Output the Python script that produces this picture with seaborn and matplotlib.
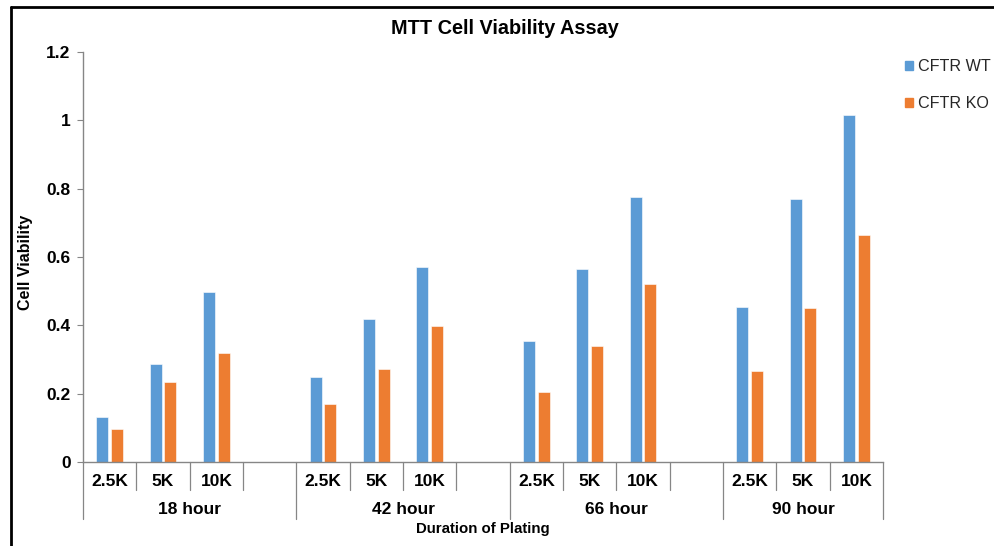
import matplotlib
matplotlib.use("Agg")
import matplotlib.pyplot as plt
import matplotlib.transforms as mtransforms
from matplotlib.lines import Line2D
import seaborn as sns
import pandas as pd

# ---- data ----
durations = ["18 hour", "42 hour", "66 hour", "90 hour"]
densities = ["2.5K", "5K", "10K"]
series = ["CFTR WT", "CFTR KO"]
wt_values = [0.131, 0.286, 0.499,
             0.250, 0.420, 0.572,
             0.355, 0.564, 0.777,
             0.453, 0.771, 1.017]
ko_values = [0.098, 0.233, 0.318,
             0.169, 0.272, 0.397,
             0.204, 0.340, 0.522,
             0.267, 0.450, 0.663]
colors = ["#5B9BD5", "#ED7D31"]

# ---- build table: 4 slots per group (3 densities + empty spacer), last group without spacer ----
order = []
slot_info = []  # (density label or "", group idx)
for gi, d in enumerate(durations):
    for den in densities:
        order.append(f"{d}|{den}")
        slot_info.append((den, gi))
    if gi < len(durations) - 1:
        order.append(f"{d}|gap")
        slot_info.append(("", gi))

rows = []
k = 0
for gi, d in enumerate(durations):
    for den in densities:
        rows.append({"slot": f"{d}|{den}", "series": series[0], "value": wt_values[k]})
        rows.append({"slot": f"{d}|{den}", "series": series[1], "value": ko_values[k]})
        k += 1
df = pd.DataFrame(rows)

sns.set_theme(style="white")
plt.rcParams["font.family"] = ["Liberation Sans", "DejaVu Sans"]

fig = plt.figure(figsize=(9.94, 5.46), dpi=100)
ax = fig.add_axes([83 / 994, 1 - 462 / 546, 800 / 994, 410 / 546])

sns.barplot(data=df, x="slot", y="value", hue="series", order=order,
            hue_order=series, palette=colors, width=0.56, gap=0.2,
            saturation=1, errorbar=None, ax=ax, legend=False,
            edgecolor="white", linewidth=0.4)

ax.set_xlim(-0.5, len(order) - 0.5)
ax.set_ylim(0, 1.2)
ax.set_yticks([0, 0.2, 0.4, 0.6, 0.8, 1.0, 1.2])
ax.set_yticklabels(["0", "0.2", "0.4", "0.6", "0.8", "1", "1.2"],
                   fontsize=12.5, fontweight="bold", color="black")
ax.tick_params(axis="y", length=4, width=0.8, color="#868686", direction="out",
               left=True, pad=5)
ax.set_xticks([])
ax.set_xlabel("")
ax.set_ylabel("Cell Viability", fontsize=11.5, fontweight="bold", color="black")
ax.yaxis.set_label_coords((33 - 83) / 800, (462 - 262) / 410)
for s in ["top", "right"]:
    ax.spines[s].set_visible(False)
for s in ["left", "bottom"]:
    ax.spines[s].set_color("#868686")
    ax.spines[s].set_linewidth(1.0)

# ---- multi-level category axis ----
trans = mtransforms.blended_transform_factory(ax.transData, ax.transAxes)
px = 1.0 / 410.0  # axes fraction per pixel (vertical)
y_inner_label = -(481 - 462) * px
y_inner_line = -(490 - 462) * px
y_group_label = -(510 - 462) * px
y_group_line = -(519 - 462) * px

n = len(order)
for i in range(n + 1):
    xb = i - 0.5
    is_group_edge = (i == 0) or (i == n) or (i < n and slot_info[i][0] == "2.5K")
    y_end = y_group_line if is_group_edge else y_inner_line
    ax.add_line(Line2D([xb, xb], [0, y_end], transform=trans, color="#868686",
                       lw=0.9, clip_on=False))
for i, (lab, gi) in enumerate(slot_info):
    if lab:
        ax.text(i, y_inner_label, lab, transform=trans, ha="center", va="center",
                fontsize=12.5, fontweight="bold", color="black")
for gi, d in enumerate(durations):
    idx = [i for i, (lab, g) in enumerate(slot_info) if g == gi]
    center = (min(idx) - 0.5 + max(idx) + 0.5) / 2
    ax.text(center, y_group_label, d, transform=trans, ha="center", va="center",
            fontsize=12.5, fontweight="bold", color="black")

fig.text(483 / 994, 1 - 529 / 546, "Duration of Plating", ha="center", va="center",
         fontsize=10.8, fontweight="bold", color="black")
fig.text(505 / 994, 1 - 28 / 546, "MTT Cell Viability Assay", ha="center", va="center",
         fontsize=14.3, fontweight="bold", color="black")

# legend
handles = [plt.Rectangle((0, 0), 1, 1, color=c) for c in colors]
fig.legend(handles, series, loc="upper left", bbox_to_anchor=(905 / 994, 1 - 59 / 546),
           frameon=False, fontsize=11.6, handlelength=0.5, handleheight=0.45,
           handletextpad=0.3, labelspacing=1.36, borderaxespad=0, borderpad=0)

# outer chart frame (cropped at right and bottom)
fig.add_artist(Line2D([11 / 994, 1.0], [1 - 7 / 546, 1 - 7 / 546],
                      transform=fig.transFigure, color="black", lw=2))
fig.add_artist(Line2D([11 / 994, 11 / 994], [0.0, 1 - 7 / 546],
                      transform=fig.transFigure, color="black", lw=2))

fig.savefig("out.png", dpi=100)
